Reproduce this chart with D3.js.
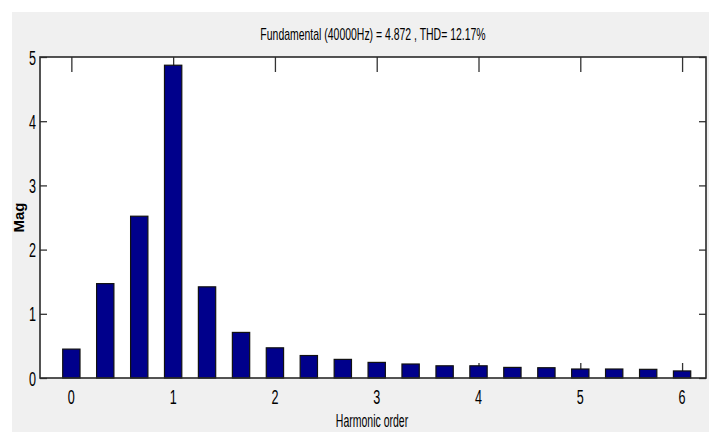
<!DOCTYPE html>
<html>
<head>
<meta charset="utf-8">
<script src="https://cdn.jsdelivr.net/npm/d3@7"></script>
<style>
  html, body { margin: 0; padding: 0; background: #ffffff; }
  svg { display: block; }
  text { font-family: "Liberation Sans", Arial, sans-serif; fill: #000; }
</style>
</head>
<body>
<svg id="chart" width="709" height="432"></svg>
<script>
// ---- data ----
const harmonicOrder = [0, 0.333, 0.667, 1, 1.333, 1.667, 2, 2.333, 2.667, 3, 3.333, 3.667, 4, 4.333, 4.667, 5, 5.333, 5.667, 6];
const magnitude = [0.45, 1.47, 2.52, 4.872, 1.42, 0.71, 0.47, 0.35, 0.29, 0.243, 0.218, 0.19, 0.19, 0.165, 0.16, 0.14, 0.14, 0.135, 0.11];
const xTicks = [0, 1, 2, 3, 4, 5, 6];
const yTicks = [0, 1, 2, 3, 4, 5];
const xLimits = [-0.308, 6.235];
const yLimits = [0, 5];
const titleText = "Fundamental (40000Hz) = 4.872 , THD= 12.17%";
const xLabelText = "Harmonic order";
const yLabelText = "Mag";

// ---- layout ----
const svg = d3.select("#chart");
const W = 709, H = 432;
const plot = { left: 40, right: 706, top: 57, bottom: 378 };
const barWidthUnits = 0.17;
const sx = 0.6; // condensed text look

svg.append("rect").attr("x", 12).attr("y", 12).attr("width", W - 12).attr("height", H - 12).attr("fill", "#f0f0f0");

const x = d3.scaleLinear().domain(xLimits).range([plot.left, plot.right]);
const y = d3.scaleLinear().domain(yLimits).range([plot.bottom, plot.top]);

// axes background
svg.append("rect")
  .attr("x", plot.left).attr("y", plot.top)
  .attr("width", plot.right - plot.left).attr("height", plot.bottom - plot.top)
  .attr("fill", "#ffffff");

// ticks (drawn beneath data)
const tickColor = "#333";
const xTickLen = 15, yTickLen = 7;
const bottomAxis = d3.axisBottom(x).tickValues(xTicks).tickSizeInner(-xTickLen).tickSizeOuter(0).tickFormat("");
const topAxis = d3.axisTop(x).tickValues(xTicks).tickSizeInner(-xTickLen).tickSizeOuter(0).tickFormat("");
const leftAxis = d3.axisLeft(y).tickValues(yTicks).tickSizeInner(-yTickLen).tickSizeOuter(0).tickFormat("");
const rightAxis = d3.axisRight(y).tickValues(yTicks).tickSizeInner(-yTickLen).tickSizeOuter(0).tickFormat("");

function styleAxis(g) {
  g.select(".domain").remove();
  g.selectAll(".tick line").attr("stroke", tickColor).attr("stroke-width", 1.3);
}
svg.append("g").attr("transform", `translate(0,${plot.bottom})`).call(bottomAxis).call(styleAxis);
svg.append("g").attr("transform", `translate(0,${plot.top})`).call(topAxis).call(styleAxis);
svg.append("g").attr("transform", `translate(${plot.left},0)`).call(leftAxis).call(styleAxis);
svg.append("g").attr("transform", `translate(${plot.right},0)`).call(rightAxis).call(styleAxis);

// bars
const bw = x(barWidthUnits) - x(0);
svg.append("g").selectAll("rect")
  .data(harmonicOrder.map((h, i) => ({ h, v: magnitude[i] })))
  .join("rect")
  .attr("x", d => x(d.h) - bw / 2)
  .attr("y", d => y(d.v))
  .attr("width", bw)
  .attr("height", d => y(0) - y(d.v))
  .attr("fill", "#00008b")
  .attr("stroke", "#111")
  .attr("stroke-width", 1.2);

// axes box
svg.append("rect")
  .attr("x", plot.left).attr("y", plot.top)
  .attr("width", plot.right - plot.left).attr("height", plot.bottom - plot.top)
  .attr("fill", "none").attr("stroke", "#2a2a2a").attr("stroke-width", 1.6);

// tick labels
const tickFont = 21;
svg.append("g").selectAll("text")
  .data(xTicks).join("text")
  .attr("transform", d => `translate(${x(d)},${plot.bottom + 26}) scale(${sx},1)`)
  .attr("text-anchor", "middle")
  .attr("font-size", tickFont)
  .text(d => d);

svg.append("g").selectAll("text")
  .data(yTicks).join("text")
  .attr("transform", d => `translate(${plot.left - 4},${y(d) + 7.5}) scale(${sx},1)`)
  .attr("text-anchor", "end")
  .attr("font-size", tickFont)
  .text(d => d);

// title
svg.append("text")
  .attr("transform", `translate(${(plot.left + plot.right) / 2},40) scale(0.615,1)`)
  .attr("text-anchor", "middle")
  .attr("font-size", 17)
  .text(titleText);

// x label
svg.append("text")
  .attr("transform", `translate(${(plot.left + plot.right) / 2 - 1},427) scale(${sx},1)`)
  .attr("text-anchor", "middle")
  .attr("font-size", 17.5)
  .text(xLabelText);

// y label
svg.append("text")
  .attr("transform", `translate(24,${(plot.top + plot.bottom) / 2}) rotate(-90)`)
  .attr("text-anchor", "middle")
  .attr("font-size", 15)
  .attr("font-weight", "bold")
  .attr("fill", "#222")
  .text(yLabelText);
</script>
</body>
</html>
